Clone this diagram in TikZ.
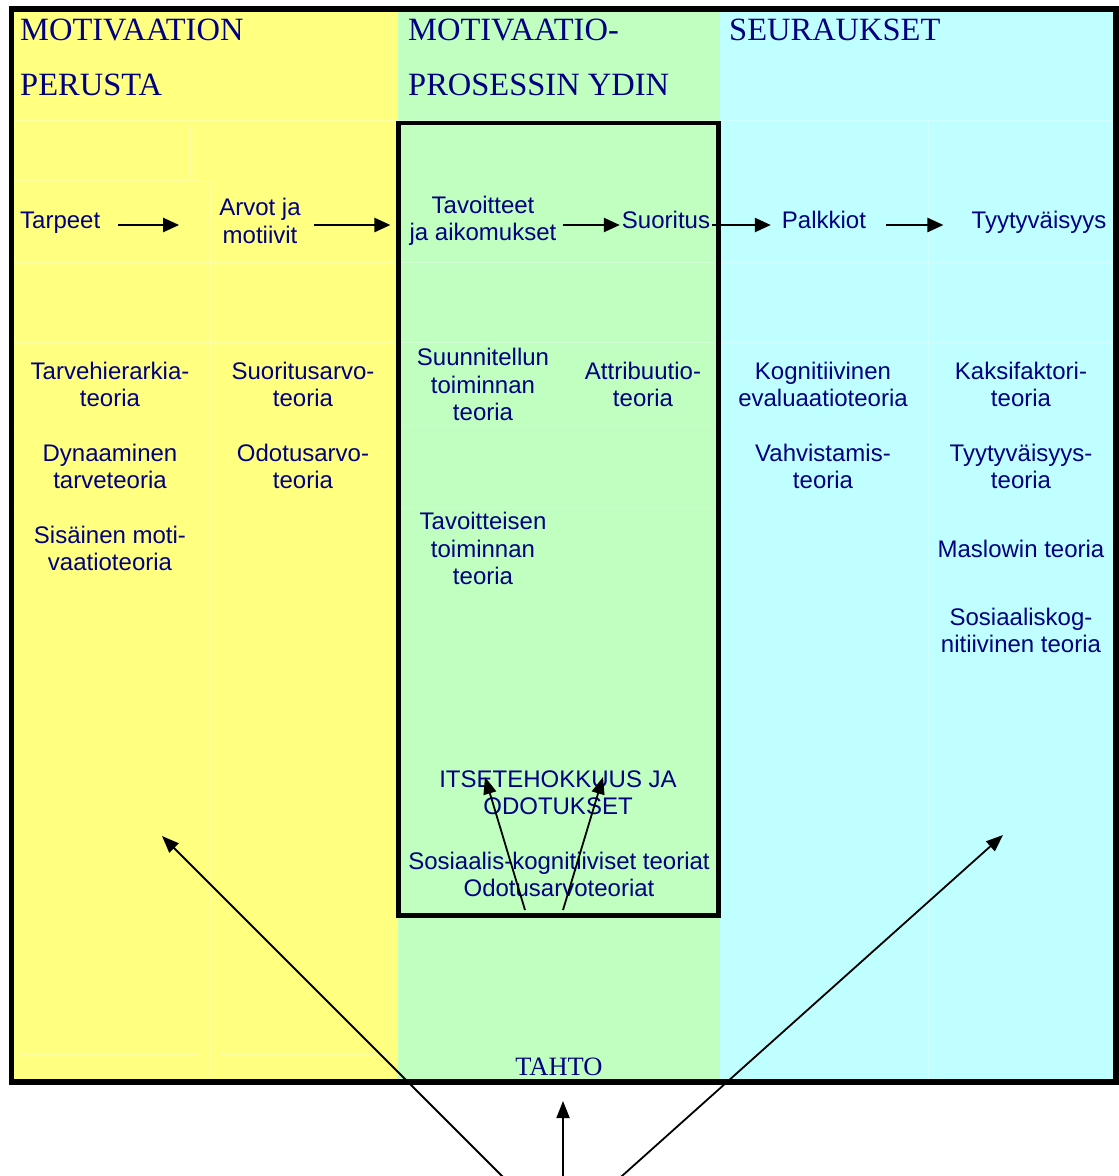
\documentclass[tikz,border=0pt]{standalone}
\usepackage{fontspec}
\setmainfont{Liberation Serif}
\setsansfont{Liberation Sans}
\usetikzlibrary{arrows.meta,calc}
\definecolor{basecol}{HTML}{FFFF80}
\definecolor{corecol}{HTML}{C0FFC0}
\definecolor{resultcol}{HTML}{C0FFFF}
\definecolor{ink}{HTML}{000080}
\begin{document}
\begin{tikzpicture}[x=1pt,y=-1pt,
  head/.style={font=\fontsize{32.5}{36}\selectfont, text=ink, inner sep=0pt, anchor=base west},
  lbl/.style={font=\sffamily\fontsize{24}{27.5}\selectfont, text=ink, inner sep=0pt, align=center},
  harr/.style={line width=2.4pt, -{Triangle[length=16pt,width=14pt]}},
  darr/.style={line width=1.8pt, -{Triangle[length=17pt,width=13pt]}},
  cellline/.style={white, opacity=0.28, line width=1pt}
]
\useasboundingbox (0,0) rectangle (1119,1176);
\fill[white] (0,0) rectangle (1119,1176);
\clip (0,0) rectangle (1119,1176);

% three column backgrounds
\fill[basecol]   (11,9)  rectangle (398,1082);
\fill[corecol]   (398,9) rectangle (720,1082);
\fill[resultcol] (720,9) rectangle (1116,1082);

% faint table cell borders
\draw[cellline] (14,120) -- (1113,120);
\draw[cellline] (14,180) -- (200,180);
\draw[cellline] (190,125) -- (190,178);
\draw[cellline] (14,262) -- (1113,262);
\draw[cellline] (14,342) -- (1113,342);
\draw[cellline] (14,425) -- (1113,425);
\draw[cellline] (14,507) -- (1113,507);
\draw[cellline] (210,180) -- (210,1080);
\draw[cellline] (928,120) -- (928,1080);
\draw[cellline] (20,1054) -- (200,1054);
\draw[cellline] (220,1054) -- (390,1054);

% outer frame and core box
\draw[line width=5.5pt] (11.5,9) rectangle (1116,1082);
\draw[line width=4.6pt] (398.5,123) rectangle (718.7,915.5);

% column headings
\node[head] (h1a) at (20,40) {MOTIVAATION};
\node[head] (h1b) at (20,95) {PERUSTA};
\node[head] (h2a) at (408,40) {MOTIVAATIO-};
\node[head] (h2b) at (408,95) {PROSESSIN YDIN};
\node[head] (h3)  at (729,40) {SEURAUKSET};

% main chain
\node[lbl, anchor=base west] (tarpeet) at (20,228) {Tarpeet};
\node[lbl] (arvot) at (260,221) {Arvot ja\\motiivit};
\node[lbl] (tavoitteet) at (483,221) {Tavoitteet\\ja aikomukset};
\node[lbl, anchor=base] (suoritus) at (666,228) {Suoritus};
\node[lbl, anchor=base] (palkkiot) at (824,228) {Palkkiot};
\node[lbl, anchor=base] (tyyt) at (1039,228) {Tyytyväisyys};

\coordinate (row) at (0,225);
\draw[harr] ($(tarpeet.east|-row)+(18,0)$) -- ($(arvot.west|-row)+(-40,0)$);
\draw[harr] ($(arvot.east|-row)+(13,0)$) -- ($(tavoitteet.west|-row)+(-19,0)$);
\draw[harr] ($(tavoitteet.east|-row)+(6,0)$) -- ($(suoritus.west|-row)+(-2,0)$);
\draw[harr] ($(suoritus.east|-row)+(2,0)$) -- ($(palkkiot.west|-row)+(-11,0)$);
\draw[harr] ($(palkkiot.east|-row)+(20,0)$) -- ($(tyyt.west|-row)+(-28,0)$);

% theories
\node[lbl] (t1) at (110,384.5) {Tarvehierarkia-\\teoria};
\node[lbl] (t2) at (110,466.5) {Dynaaminen\\tarveteoria};
\node[lbl] (t3) at (110,548.5) {Sisäinen moti-\\vaatioteoria};
\node[lbl] (t4) at (303,384.5) {Suoritusarvo-\\teoria};
\node[lbl] (t5) at (303,466.5) {Odotusarvo-\\teoria};
\node[lbl] (t6) at (483,384.5) {Suunnitellun\\toiminnan\\teoria};
\node[lbl] (t7) at (643,384.5) {Attribuutio-\\teoria};
\node[lbl] (t8) at (483,548.5) {Tavoitteisen\\toiminnan\\teoria};
\node[lbl] (t9) at (823,384.5) {Kognitiivinen\\evaluaatioteoria};
\node[lbl] (t10) at (823,466.5) {Vahvistamis-\\teoria};
\node[lbl] (t11) at (1021,384.5) {Kaksifaktori-\\teoria};
\node[lbl] (t12) at (1021,466.5) {Tyytyväisyys-\\teoria};
\node[lbl, anchor=base] (t13) at (1021,557) {Maslowin teoria};
\node[lbl] (t14) at (1021,630.5) {Sosiaaliskog-\\nitiivinen teoria};

\node[lbl] (itse) at (558,792.5) {ITSETEHOKKUUS JA\\ODOTUKSET};
\node[lbl] (sosk) at (559,874.5) {Sosiaalis-kognitiiviset teoriat\\Odotusarvoteoriat};

\node[anchor=base, font=\fontsize{26.5}{30}\selectfont, text=ink, inner sep=0pt] (tahto) at (559,1075) {TAHTO};

% arrows inside the core box
\coordinate (iLb) at (525,910);
\coordinate (iLt) at (485,777);
\coordinate (iRb) at (563,910);
\coordinate (iRt) at (603,777);
\draw[darr] (iLb) -- (iLt);
\draw[darr] (iRb) -- (iRt);

% arrows rising from below
\coordinate (bL) at (506,1180);
\coordinate (bM) at (563,1180);
\coordinate (bR) at (617.5,1180);
\coordinate (tL) at (162,836);
\coordinate (tM) at (563,1101);
\coordinate (tR) at (1003,835);
\draw[darr] (bL) -- (tL);
\draw[darr] (bM) -- (tM);
\draw[darr] (bR) -- (tR);
\end{tikzpicture}
\end{document}
